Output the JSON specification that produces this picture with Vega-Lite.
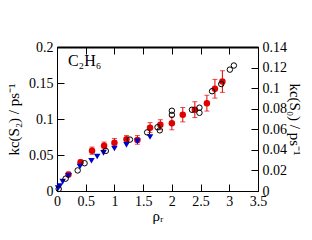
{
  "$schema": "https://vega.github.io/schema/vega-lite/v6.json",
  "autosize": {"type": "none"},
  "width": 201,
  "height": 144,
  "padding": {"left": 57, "top": 47, "right": 54, "bottom": 49},
  "background": "white",
  "config": {
    "view": {"stroke": "black", "strokeWidth": 1},
    "font": "Liberation Serif",
    "axis": {
      "grid": false,
      "domainColor": "black",
      "tickColor": "black",
      "tickSize": -7,
      "labelFont": "Liberation Serif",
      "labelFontSize": 14,
      "labelColor": "black",
      "labelFlush": false,
      "labelOverlap": false,
      "titleFont": "Liberation Serif",
      "titleFontSize": 15,
      "titleFontWeight": "normal",
      "titleColor": "black",
      "format": "~g"
    }
  },
  "datasets": {
    "red": [
      {"x": 0.2, "y": 0.023, "err": 0.003},
      {"x": 0.41, "y": 0.040, "err": 0.003},
      {"x": 0.61, "y": 0.056, "err": 0.005},
      {"x": 0.82, "y": 0.063, "err": 0.005},
      {"x": 1.0, "y": 0.067, "err": 0.006},
      {"x": 1.21, "y": 0.072, "err": 0.005},
      {"x": 1.4, "y": 0.071, "err": 0.006},
      {"x": 1.62, "y": 0.088, "err": 0.007},
      {"x": 1.8, "y": 0.092, "err": 0.007},
      {"x": 2.0, "y": 0.094, "err": 0.009},
      {"x": 2.19, "y": 0.106, "err": 0.010},
      {"x": 2.4, "y": 0.113, "err": 0.011},
      {"x": 2.61, "y": 0.122, "err": 0.011},
      {"x": 2.75, "y": 0.142, "err": 0.013},
      {"x": 2.88, "y": 0.152, "err": 0.015}
    ],
    "blue": [
      {"x": 0.02, "y": 0.004},
      {"x": 0.05, "y": 0.007},
      {"x": 0.1, "y": 0.013},
      {"x": 0.2, "y": 0.021},
      {"x": 0.4, "y": 0.034},
      {"x": 0.6, "y": 0.042},
      {"x": 0.7, "y": 0.048},
      {"x": 0.81, "y": 0.053},
      {"x": 1.0, "y": 0.059},
      {"x": 1.21, "y": 0.064},
      {"x": 1.4, "y": 0.069},
      {"x": 1.62, "y": 0.075}
    ],
    "open": [
      {"x": 0.03, "y": 0.002},
      {"x": 0.15, "y": 0.012},
      {"x": 0.36, "y": 0.020},
      {"x": 0.48, "y": 0.027},
      {"x": 0.85, "y": 0.039},
      {"x": 1.27, "y": 0.050},
      {"x": 1.57, "y": 0.057},
      {"x": 1.75, "y": 0.062},
      {"x": 1.79, "y": 0.059},
      {"x": 2.0, "y": 0.074},
      {"x": 2.0, "y": 0.078},
      {"x": 2.35, "y": 0.079},
      {"x": 2.48, "y": 0.081},
      {"x": 2.48, "y": 0.076},
      {"x": 2.7, "y": 0.097},
      {"x": 2.86, "y": 0.104},
      {"x": 3.01, "y": 0.118},
      {"x": 3.08, "y": 0.122}
    ],
    "label": [{"x": 0.19, "y": 0.173, "t": "C₂H₆"}]
  },
  "layer": [
    {
      "encoding": {
        "x": {
          "field": "x", "type": "quantitative",
          "scale": {"domain": [0, 3.5], "nice": false},
          "axis": {"orient": "bottom", "values": [0, 0.5, 1, 1.5, 2, 2.5, 3, 3.5], "title": "ρᵣ", "titlePadding": 0, "labelPadding": 10}
        },
        "y": {
          "field": "y", "type": "quantitative",
          "scale": {"domain": [0, 0.2], "nice": false},
          "axis": {"orient": "left", "values": [0, 0.05, 0.1, 0.15, 0.2], "title": "kc(S₂) / ps⁻¹", "titlePadding": 7, "labelPadding": 11}
        }
      },
      "layer": [
        {
          "data": {"name": "red"},
          "mark": {"type": "errorbar", "color": "#e00000", "ticks": {"size": 5, "color": "#e00000"}},
          "encoding": {
            "yError": {"field": "err"}
          }
        },
        {
          "data": {"name": "red"},
          "mark": {"type": "point", "shape": "circle", "filled": true, "color": "#e00000", "size": 42, "opacity": 1}
        },
        {
          "data": {"name": "blue"},
          "mark": {"type": "point", "shape": "triangle-down", "filled": true, "color": "#0000cc", "size": 42, "opacity": 1}
        },
        {
          "data": {"name": "label"},
          "mark": {"type": "text", "align": "left", "baseline": "alphabetic", "fontSize": 16, "font": "Liberation Serif", "color": "black"},
          "encoding": {"text": {"field": "t"}}
        }
      ]
    },
    {
      "data": {"name": "open"},
      "mark": {"type": "point", "shape": "circle", "filled": false, "color": "black", "size": 30, "strokeWidth": 1, "opacity": 1},
      "encoding": {
        "x": {
          "field": "x", "type": "quantitative",
          "scale": {"domain": [0, 3.5], "nice": false},
          "axis": {"orient": "top", "values": [0, 0.5, 1, 1.5, 2, 2.5, 3, 3.5], "labels": false, "title": null, "domainWidth": 2}
        },
        "y": {
          "field": "y", "type": "quantitative",
          "scale": {"domain": [0, 0.14], "nice": false},
          "axis": {"orient": "right", "values": [0, 0.02, 0.04, 0.06, 0.08, 0.1, 0.12, 0.14], "title": "kc(S₀) / ps⁻¹", "titleAngle": 90, "titlePadding": 0, "labelPadding": 11}
        }
      }
    }
  ],
  "resolve": {"scale": {"y": "independent"}, "axis": {"x": "independent"}}
}
